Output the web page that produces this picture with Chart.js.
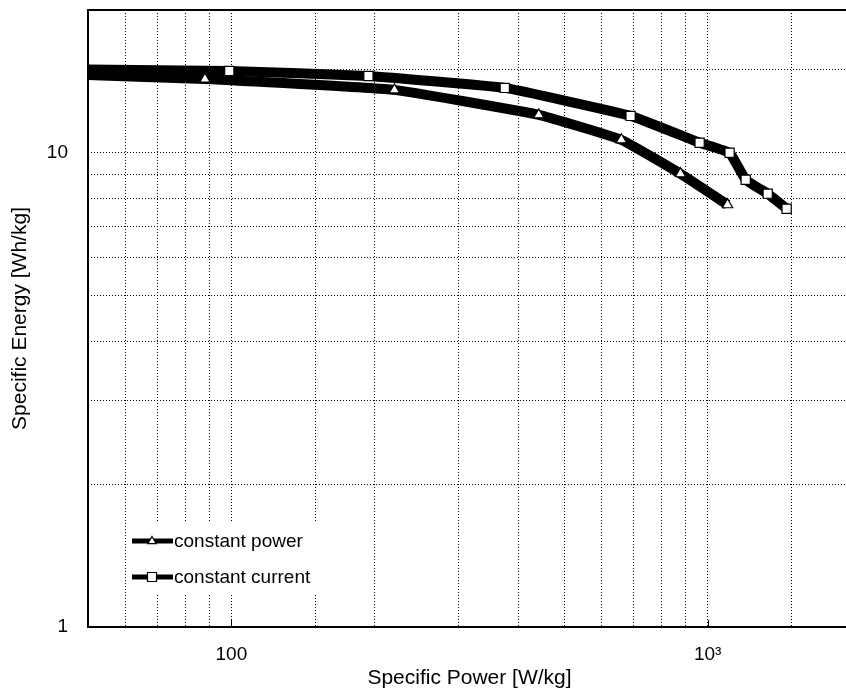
<!DOCTYPE html>
<html>
<head>
<meta charset="utf-8">
<script src="https://cdn.jsdelivr.net/npm/chart.js@4.4.1/dist/chart.umd.min.js"></script>
<style>
    html, body { margin: 0; padding: 0; background: #ffffff; overflow: hidden; }
    #wrap { width: 851px; height: 693px; }
    canvas { display: block; }
</style>
</head>
<body>
<div id="wrap"><canvas id="ragoneChart" width="851" height="693"></canvas></div>
<script>
// constant power (triangles)
const powerX = [40, 88, 220, 442, 659, 877, 1101];
const powerY = [14.7, 14.3, 13.57, 12.02, 10.65, 9.03, 7.77];

// constant current (squares)
const currentX = [40, 99, 194, 375, 689, 962, 1112, 1202, 1337, 1465];
const currentY = [15.0, 14.88, 14.52, 13.7, 11.96, 10.5, 10.0, 8.77, 8.2, 7.62];

const seriesNames = ["constant power", "constant current"];
const xTickLabels = { 100: "100", 1000: "10\u00b3" };
const yTickLabels = { 1: "1", 10: "10" };

const fontFamily = "'Liberation Sans', Arial, sans-serif";

function toPoints(xs, ys) {
    return xs.map(function (x, i) { return { x: x, y: ys[i] }; });
}

function dropPadding(scale) {
    scale.paddingTop = 0;
    scale.paddingBottom = 0;
    scale.paddingLeft = 0;
    scale.paddingRight = 0;
}

function drawMarker(ctx, style, x, y, r) {
    ctx.beginPath();
    if (style === "triangle") {
        ctx.moveTo(x, y - r);
        ctx.lineTo(x + r * 0.95, y + r * 0.6);
        ctx.lineTo(x - r * 0.95, y + r * 0.6);
        ctx.closePath();
    } else {
        ctx.rect(x - r, y - r, r * 2, r * 2);
    }
    ctx.fillStyle = "#ffffff";
    ctx.fill();
    ctx.lineWidth = 1.2;
    ctx.strokeStyle = "#000000";
    ctx.stroke();
}

const framePlugin = {
    id: "frameAndLegend",
    afterDraw: function (chart) {
        const ctx = chart.ctx;
        const area = chart.chartArea;
        ctx.save();

        // legend box
        const lx = area.left + 40;
        const ly = area.bottom - 106;
        ctx.fillStyle = "#ffffff";
        ctx.fillRect(lx, ly, 215, 74);
        chart.data.datasets.forEach(function (ds, i) {
            const y = ly + 20 + i * 36;
            ctx.strokeStyle = "#000000";
            ctx.lineWidth = 5;
            ctx.beginPath();
            ctx.moveTo(lx + 4, y);
            ctx.lineTo(lx + 45, y);
            ctx.stroke();
            drawMarker(ctx, ds.pointStyle, lx + 24, y, 4.5);
            ctx.fillStyle = "#000000";
            ctx.font = "19px " + fontFamily;
            ctx.textBaseline = "middle";
            ctx.textAlign = "left";
            ctx.fillText(ds.label, lx + 46, y + 1);
        });

        // frame
        ctx.strokeStyle = "#000000";
        ctx.lineWidth = 2;
        ctx.strokeRect(area.left, area.top, area.right - area.left, area.bottom - area.top);

        // small tick marks at the labelled decades
        ctx.lineWidth = 1;
        [100, 1000].forEach(function (v) {
            const px = Math.round(chart.scales.x.getPixelForValue(v)) + 0.5;
            ctx.beginPath();
            ctx.moveTo(px, area.bottom);
            ctx.lineTo(px, area.bottom - 7);
            ctx.stroke();
        });
        ctx.restore();
    }
};

const canvas = document.getElementById("ragoneChart");
new Chart(canvas.getContext("2d"), {
    type: "line",
    data: {
        datasets: [
            {
                label: seriesNames[0],
                data: toPoints(powerX, powerY),
                borderColor: "#000000",
                borderWidth: 10,
                pointStyle: "triangle",
                pointRadius: 6,
                pointBackgroundColor: "#ffffff",
                pointBorderColor: "#000000",
                pointBorderWidth: 1.2,
                tension: 0.1,
                clip: 0
            },
            {
                label: seriesNames[1],
                data: toPoints(currentX, currentY),
                borderColor: "#000000",
                borderWidth: 10,
                pointStyle: "rect",
                pointRadius: 6.5,
                pointBackgroundColor: "#ffffff",
                pointBorderColor: "#000000",
                pointBorderWidth: 1.2,
                tension: 0.1,
                clip: 0
            }
        ]
    },
    options: {
        responsive: false,
        animation: false,
        layout: { autoPadding: false, padding: { top: 10, left: 0, right: 0, bottom: 0 } },
        plugins: {
            legend: { display: false },
            tooltip: { enabled: false }
        },
        scales: {
            x: {
                type: "logarithmic",
                min: 50,
                max: 2000,
                afterFit: function (scale) { scale.height = 66; dropPadding(scale); },
                grid: { color: "#000000", lineWidth: 1, drawTicks: false },
                border: { display: false, dash: [1, 2] },
                ticks: {
                    autoSkip: false,
                    maxRotation: 0,
                    padding: 16,
                    color: "#000000",
                    font: { family: fontFamily, size: 19 },
                    callback: function (value) { return xTickLabels[value] || ""; }
                },
                title: {
                    display: true,
                    text: "Specific Power [W/kg]",
                    color: "#000000",
                    font: { family: fontFamily, size: 21 },
                    padding: { top: 0, bottom: 2 }
                }
            },
            y: {
                type: "logarithmic",
                min: 1,
                max: 20,
                afterFit: function (scale) { scale.width = 88; dropPadding(scale); },
                grid: { color: "#000000", lineWidth: 1, drawTicks: false },
                border: { display: false, dash: [1, 2] },
                ticks: {
                    autoSkip: false,
                    padding: 20,
                    color: "#000000",
                    font: { family: fontFamily, size: 19 },
                    callback: function (value) { return yTickLabels[value] || ""; }
                },
                title: {
                    display: true,
                    text: "Specific Energy [Wh/kg]",
                    color: "#000000",
                    font: { family: fontFamily, size: 21 },
                    padding: { top: 8, bottom: 0 }
                }
            }
        }
    },
    plugins: [framePlugin]
});
</script>
</body>
</html>
